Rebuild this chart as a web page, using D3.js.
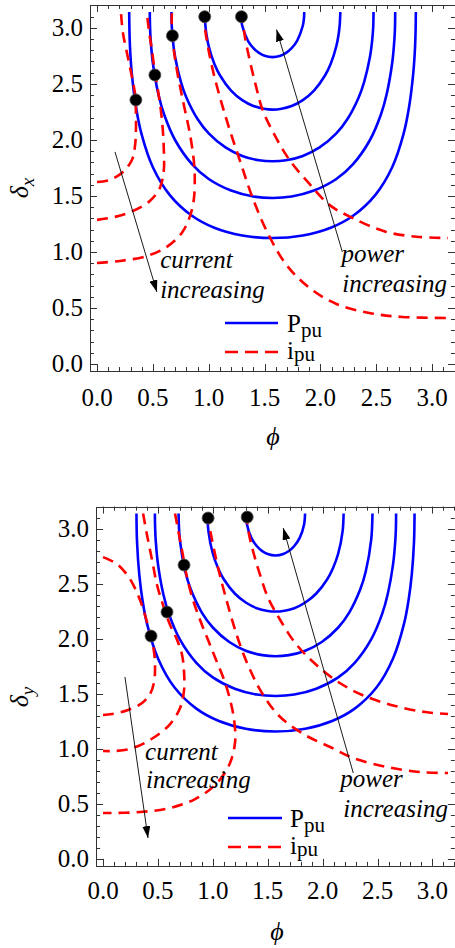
<!DOCTYPE html>
<html>
<head>
<meta charset="utf-8">
<script src="https://cdn.jsdelivr.net/npm/d3@7"></script>
<style>
  body { margin: 0; background: #fff; }
  .t { font-family: Liberation Serif, Times New Roman, serif !important; }
</style>
</head>
<body>
<script>
// tick values (both axes, both panels)
const phiTicks = [0, 0.5, 1, 1.5, 2, 2.5, 3];
const deltaTicks = [0, 0.5, 1, 1.5, 2, 2.5, 3];

// ---- top panel (delta_x): P_pu contours as [phi, delta]
const powerX = [
  [[1.287,3.142],[1.29,3.083],[1.30,3.019],[1.35,2.887],[1.40,2.819],[1.45,2.777],[1.50,2.751],[1.571,2.739],[1.642,2.751],[1.692,2.777],[1.742,2.819],[1.792,2.887],[1.842,3.019],[1.852,3.083],[1.855,3.142]],
  [[0.964,3.142],[0.97,3.023],[0.98,2.939],[1.0,2.836],[1.05,2.680],[1.1,2.577],[1.2,2.440],[1.3,2.355],[1.4,2.303],[1.571,2.270],[1.742,2.303],[1.842,2.355],[1.942,2.440],[2.042,2.577],[2.092,2.680],[2.142,2.836],[2.162,2.939],[2.172,3.023],[2.178,3.142]],
  [[0.666,3.142],[0.67,3.003],[0.68,2.879],[0.70,2.735],[0.75,2.521],[0.80,2.379],[0.90,2.187],[1.0,2.059],[1.15,1.933],[1.3,1.857],[1.45,1.818],[1.571,1.809],[1.692,1.818],[1.842,1.857],[1.992,1.933],[2.142,2.059],[2.242,2.187],[2.342,2.379],[2.392,2.521],[2.442,2.735],[2.462,2.879],[2.472,3.003],[2.475,3.142]],
  [[0.4725,3.142],[0.475,3.0],[0.48,2.899],[0.50,2.686],[0.55,2.405],[0.60,2.229],[0.70,1.997],[0.85,1.784],[1.0,1.651],[1.2,1.548],[1.4,1.495],[1.571,1.482],[1.742,1.495],[1.942,1.548],[2.142,1.651],[2.292,1.784],[2.442,1.997],[2.542,2.229],[2.592,2.405],[2.642,2.686],[2.662,2.899],[2.667,3.0],[2.669,3.142]],
  [[0.288,3.142],[0.29,3.0],[0.295,2.836],[0.31,2.610],[0.35,2.287],[0.40,2.047],[0.50,1.756],[0.65,1.510],[0.85,1.323],[1.05,1.216],[1.3,1.147],[1.571,1.124],[1.842,1.147],[2.092,1.216],[2.292,1.323],[2.492,1.510],[2.642,1.756],[2.742,2.047],[2.792,2.287],[2.832,2.610],[2.847,2.836],[2.852,3.0],[2.854,3.142]]
];
// i_pu contours, top panel
const currentX = [
  [[0,1.625],[0.116,1.643],[0.232,1.714],[0.3125,1.821],[0.339,1.938],[0.348,2.063],[0.348,2.268],[0.345,2.38],[0.3125,2.563],[0.268,2.777],[0.232,2.955],[0.214,3.142]],
  [[0,1.286],[0.161,1.313],[0.321,1.366],[0.473,1.455],[0.5625,1.571],[0.598,1.732],[0.598,1.911],[0.589,2.089],[0.571,2.268],[0.545,2.446],[0.518,2.607],[0.491,2.804],[0.464,2.982],[0.446,3.142]],
  [[0,0.902],[0.205,0.920],[0.446,0.964],[0.625,1.045],[0.759,1.170],[0.830,1.313],[0.866,1.464],[0.875,1.643],[0.866,1.821],[0.830,2.063],[0.777,2.313],[0.723,2.580],[0.6875,2.804],[0.670,2.982],[0.670,3.142]],
  [[0.946,3.142],[0.982,2.893],[1.036,2.625],[1.107,2.357],[1.188,2.089],[1.286,1.795],[1.393,1.482],[1.527,1.170],[1.696,0.884],[1.902,0.679],[2.143,0.536],[2.438,0.455],[2.732,0.420],[3.142,0.411]],
  [[1.295,3.142],[1.321,2.938],[1.366,2.714],[1.420,2.491],[1.482,2.268],[1.589,2.045],[1.723,1.821],[1.902,1.607],[2.080,1.420],[2.286,1.304],[2.589,1.179],[2.884,1.134],[3.142,1.125]]
];
const optimumX = [[0.348,2.357],[0.518,2.58],[0.675,2.93],[0.964,3.10],[1.293,3.10]];

// ---- bottom panel (delta_y)
const powerY = [
  [[1.3015,3.142],[1.31,3.047],[1.35,2.922],[1.40,2.846],[1.45,2.800],[1.50,2.773],[1.571,2.760],[1.642,2.773],[1.692,2.800],[1.742,2.846],[1.792,2.922],[1.832,3.047],[1.840,3.142]],
  [[0.951,3.142],[0.96,2.982],[1.0,2.778],[1.05,2.640],[1.1,2.544],[1.2,2.414],[1.3,2.332],[1.4,2.281],[1.571,2.250],[1.742,2.281],[1.842,2.332],[1.942,2.414],[2.042,2.544],[2.092,2.640],[2.142,2.778],[2.182,2.982],[2.191,3.142]],
  [[0.688,3.142],[0.70,2.902],[0.75,2.612],[0.80,2.450],[0.90,2.241],[1.0,2.105],[1.15,1.973],[1.3,1.894],[1.45,1.854],[1.571,1.844],[1.692,1.854],[1.842,1.894],[1.992,1.973],[2.142,2.105],[2.242,2.241],[2.342,2.450],[2.392,2.612],[2.442,2.902],[2.454,3.142]],
  [[0.4725,3.142],[0.475,3.0],[0.48,2.899],[0.50,2.686],[0.55,2.405],[0.60,2.229],[0.70,1.997],[0.85,1.784],[1.0,1.651],[1.2,1.548],[1.4,1.495],[1.571,1.482],[1.742,1.495],[1.942,1.548],[2.142,1.651],[2.292,1.784],[2.442,1.997],[2.542,2.229],[2.592,2.405],[2.642,2.686],[2.662,2.899],[2.667,3.0],[2.669,3.142]],
  [[0.3047,3.142],[0.31,2.883],[0.33,2.590],[0.36,2.351],[0.40,2.142],[0.50,1.825],[0.65,1.561],[0.85,1.367],[1.05,1.257],[1.3,1.184],[1.571,1.159],[1.842,1.184],[2.092,1.257],[2.292,1.367],[2.492,1.561],[2.642,1.825],[2.742,2.142],[2.782,2.351],[2.812,2.590],[2.832,2.883],[2.837,3.142]]
];
const currentY = [
  [[0,2.745],[0.128,2.682],[0.246,2.545],[0.337,2.355],[0.401,2.155],[0.4375,2.018],[0.465,1.882],[0.474,1.745],[0.465,1.609],[0.428,1.5],[0.356,1.418],[0.228,1.355],[0.082,1.318],[0,1.309]],
  [[0.365,3.142],[0.401,2.945],[0.447,2.718],[0.492,2.491],[0.547,2.309],[0.611,2.127],[0.675,1.991],[0.720,1.855],[0.738,1.700],[0.738,1.536],[0.702,1.373],[0.611,1.227],[0.456,1.1],[0.273,1.009],[0.109,0.982],[0,0.982]],
  [[0.656,3.142],[0.693,2.945],[0.729,2.755],[0.766,2.555],[0.820,2.355],[0.884,2.173],[0.957,1.991],[1.030,1.809],[1.103,1.627],[1.158,1.445],[1.194,1.264],[1.203,1.064],[1.149,0.855],[1.021,0.673],[0.839,0.545],[0.611,0.464],[0.337,0.427],[0,0.418]],
  [[0.948,3.142],[0.975,2.991],[1.012,2.809],[1.057,2.609],[1.112,2.4],[1.176,2.173],[1.249,1.945],[1.340,1.718],[1.459,1.491],[1.614,1.291],[1.841,1.127],[2.069,1.018],[2.279,0.918],[2.589,0.836],[2.890,0.791],[3.142,0.782]],
  [[1.304,3.142],[1.331,2.945],[1.376,2.764],[1.431,2.582],[1.504,2.373],[1.614,2.173],[1.750,1.964],[1.914,1.791],[2.115,1.627],[2.361,1.491],[2.662,1.391],[2.935,1.336],[3.142,1.318]]
];
const optimumY = [[0.4375,2.027],[0.583,2.245],[0.738,2.673],[0.957,3.10],[1.313,3.109]];

const W = 455, H = 948;
const svg = d3.select("body").append("svg")
  .attr("width", W).attr("height", H);

// arrowhead
svg.append("defs").append("marker")
  .attr("id", "head")
  .attr("viewBox", "0 0 12 8")
  .attr("refX", 12).attr("refY", 4)
  .attr("markerWidth", 12).attr("markerHeight", 8)
  .attr("markerUnits", "userSpaceOnUse")
  .attr("orient", "auto")
  .append("path").attr("d", "M0,0 L12,4 L0,8 Z").attr("fill", "#000");

// graphics go in one group, all text sits straight under the svg
const plotLayer = svg.append("g");
function txt() {
  return svg.append("text").attr("class", "t")
    .style("font-family", "Liberation Serif, Times New Roman, serif", "important");
}

const panels = [
  {
    xr: [97, 448], yr: [364, 12], sub: "x",
    power: powerX, current: currentX, dots: optimumX,
    yLabel: [20, 188], xLabel: [273, 445], xTickY: 406,
    curArrow: [[0.161, 1.893], [0.536, 0.643]],
    curText: [[0.565, 0.857], [0.565, 0.589]],
    powArrow: [[2.196, 1.0], [1.607, 2.985]],
    powText: [[2.188, 0.911], [2.196, 0.643]],
    legend: { x1: 225, x2: 278, y: 323, tx: 287 }
  },
  {
    xr: [103, 448], yr: [859, 513.5], sub: "y",
    power: powerY, current: currentY, dots: optimumY,
    yLabel: [20, 697], xLabel: [277, 940], xTickY: 899,
    curArrow: [[0.2, 1.655], [0.41, 0.19]],
    curText: [[0.383, 0.9], [0.392, 0.645]],
    powArrow: [[2.279, 0.782], [1.641, 3.01]],
    powText: [[2.16, 0.655], [2.188, 0.382]],
    legend: { x1: 228, x2: 282, y: 818, tx: 290 }
  }
];

panels.forEach(p => {
  const x = d3.scaleLinear().domain([0, Math.PI]).range(p.xr);
  const y = d3.scaleLinear().domain([0, Math.PI]).range(p.yr);
  const pad = 0.02 * Math.PI;
  const x0 = x(-pad), x1 = x(Math.PI + pad);
  const y0 = y(-pad), y1 = y(Math.PI + pad);

  const g = plotLayer.append("g");

  // frame + ticks (Mathematica-style, ticks inside on all four sides)
  const minor = d3.range(-0.1, 3.25, 0.1).filter(v => v >= -pad && v <= Math.PI + pad);
  const isMajor = v => Math.abs(v * 2 - Math.round(v * 2)) < 1e-6;
  const tk = g.append("g").attr("stroke", "#333").attr("stroke-width", 1);
  minor.forEach(v => {
    const len = isMajor(v) ? 7 : 4;
    const px = Math.round(x(v)) + 0.5, py = Math.round(y(v)) + 0.5;
    tk.append("line").attr("x1", px).attr("x2", px).attr("y1", y0).attr("y2", y0 - len);
    tk.append("line").attr("x1", px).attr("x2", px).attr("y1", y1).attr("y2", y1 + len);
    tk.append("line").attr("y1", py).attr("y2", py).attr("x1", x0).attr("x2", x0 + len);
    tk.append("line").attr("y1", py).attr("y2", py).attr("x1", x1).attr("x2", x1 - len);
  });
  g.append("rect")
    .attr("x", Math.round(x0) + 0.5).attr("y", Math.round(y1) + 0.5)
    .attr("width", Math.round(x1 - x0)).attr("height", Math.round(y0 - y1))
    .attr("fill", "none").attr("stroke", "#333").attr("stroke-width", 1);

  // tick labels
  phiTicks.forEach(d => {
    txt().attr("x", x(d)).attr("y", p.xTickY)
      .attr("text-anchor", "middle").attr("font-size", 25)
      .text(d.toFixed(1));
  });
  deltaTicks.forEach(d => {
    txt().attr("x", x0 - 7).attr("y", y(d) + 8)
      .attr("text-anchor", "end").attr("font-size", 25)
      .text(d.toFixed(1));
  });

  // axis labels
  txt().attr("x", p.xLabel[0]).attr("y", p.xLabel[1])
    .attr("text-anchor", "middle").attr("font-size", 26).attr("font-style", "italic")
    .text("\u03d5");
  const yl = txt()
    .attr("transform", `translate(${p.yLabel[0] + 8},${p.yLabel[1]}) rotate(-90)`)
    .attr("text-anchor", "middle").attr("font-size", 26);
  yl.append("tspan").attr("font-style", "italic").text("\u03b4");
  yl.append("tspan").attr("dy", 6).attr("font-size", 19).attr("font-style", "italic").text(p.sub);

  const line = d3.line().x(d => x(d[0])).y(d => y(d[1])).curve(d3.curveCatmullRom.alpha(0.5));

  // P_pu contours
  g.selectAll(".pw").data(p.power).enter().append("path")
    .attr("d", line).attr("fill", "none")
    .attr("stroke", "#0000ff").attr("stroke-width", 2.6);

  // i_pu contours
  g.selectAll(".cu").data(p.current).enter().append("path")
    .attr("d", line).attr("fill", "none")
    .attr("stroke", "#ff0000").attr("stroke-width", 2.6)
    .attr("stroke-dasharray", "11,7");

  // optimum points
  g.selectAll(".dot").data(p.dots).enter().append("circle")
    .attr("cx", d => x(d[0])).attr("cy", d => y(d[1])).attr("r", 6)
    .attr("fill", "#000").attr("stroke", "#555").attr("stroke-width", 0.8);

  // annotation arrows
  [p.curArrow, p.powArrow].forEach(a => {
    g.append("line")
      .attr("x1", x(a[0][0])).attr("y1", y(a[0][1]))
      .attr("x2", x(a[1][0])).attr("y2", y(a[1][1]))
      .attr("stroke", "#000").attr("stroke-width", 0.9)
      .attr("marker-end", "url(#head)");
  });
  const words = [["current", p.curText[0]], ["increasing", p.curText[1]],
                 ["power", p.powText[0]], ["increasing", p.powText[1]]];
  words.forEach(w => {
    txt().attr("x", x(w[1][0])).attr("y", y(w[1][1]))
      .attr("font-size", 25).attr("font-style", "italic").text(w[0]);
  });

  // legend
  const L = p.legend;
  g.append("line").attr("x1", L.x1).attr("x2", L.x2).attr("y1", L.y).attr("y2", L.y)
    .attr("stroke", "#0000ff").attr("stroke-width", 2.6);
  g.append("line").attr("x1", L.x1).attr("x2", L.x2).attr("y1", L.y + 29).attr("y2", L.y + 29)
    .attr("stroke", "#ff0000").attr("stroke-width", 2.6).attr("stroke-dasharray", "13,7");
  const t1 = txt().attr("x", L.tx).attr("y", L.y + 9).attr("font-size", 25);
  t1.append("tspan").text("P");
  t1.append("tspan").attr("dy", 5).attr("font-size", 21).text("pu");
  const t2 = txt().attr("x", L.tx).attr("y", L.y + 36).attr("font-size", 25);
  t2.append("tspan").text("i");
  t2.append("tspan").attr("dy", 2).attr("font-size", 21).text("pu");
});
</script>
</body>
</html>
